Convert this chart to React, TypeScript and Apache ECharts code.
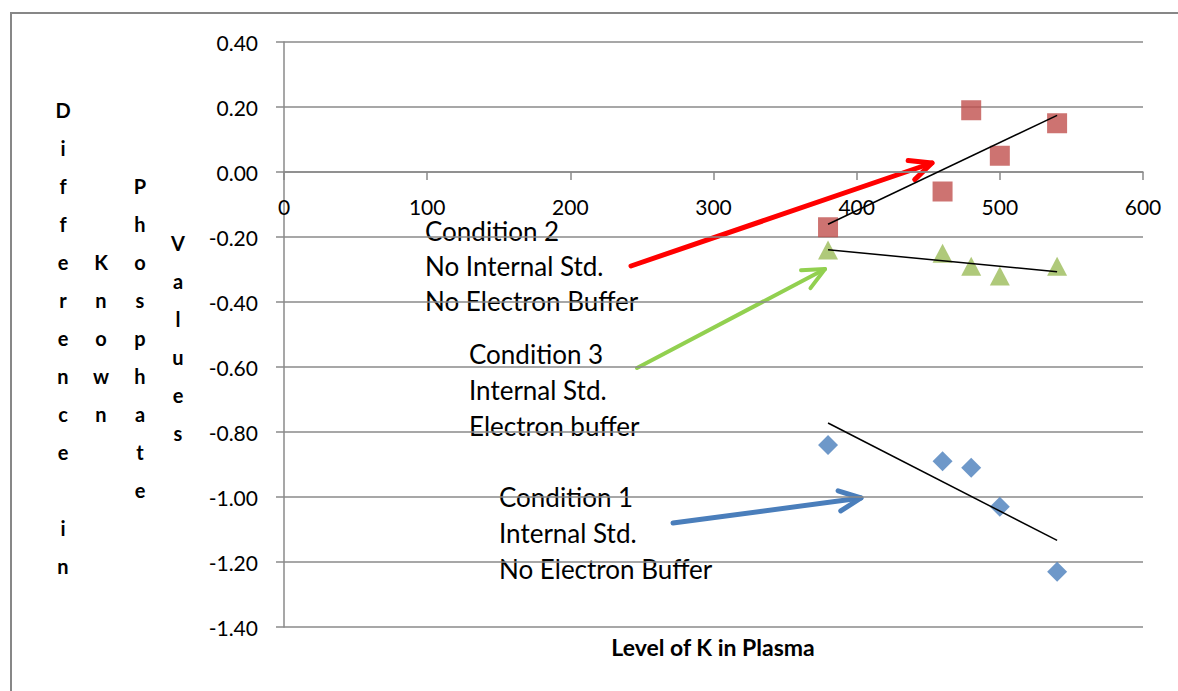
import React, { useEffect, useRef } from "react";
import * as echarts from "echarts";

const kLevels = [380, 460, 480, 500, 540];
const condition1 = [-0.84, -0.89, -0.91, -1.03, -1.23];
const condition2 = [-0.17, -0.06, 0.19, 0.05, 0.15];
const condition3 = [-0.24, -0.25, -0.29, -0.32, -0.29];

const yTitleColumns = ["Difference in", "Known", "Phosphate", "Values"];
const xTitle = "Level of K in Plasma";
const note2 = ["Condition 2", "No Internal Std.", "No Electron Buffer"];
const note3 = ["Condition 3", "Internal Std.", "Electron buffer"];
const note1 = ["Condition 1", "Internal Std.", "No Electron Buffer"];

const X_MIN = 0;
const X_MAX = 600;
const X_STEP = 100;
const Y_MIN = -1.4;
const Y_MAX = 0.4;
const Y_STEP = 0.2;

const FONT = "Lato, 'Open Sans', sans-serif";

function pairs(xs: number[], ys: number[]) {
  return xs.map((x, i) => [x, ys[i]]);
}

function trend(xs: number[], ys: number[]) {
  const n = xs.length;
  const mx = xs.reduce((a, b) => a + b, 0) / n;
  const my = ys.reduce((a, b) => a + b, 0) / n;
  let sxy = 0;
  let sxx = 0;
  for (let i = 0; i < n; i++) {
    sxy += (xs[i] - mx) * (ys[i] - my);
    sxx += (xs[i] - mx) * (xs[i] - mx);
  }
  const b = sxy / sxx;
  const x0 = Math.min(...xs);
  const x1 = Math.max(...xs);
  return [
    [x0, my + b * (x0 - mx)],
    [x1, my + b * (x1 - mx)],
  ];
}

function arrow(x1: number, y1: number, x2: number, y2: number, color: string, w: number) {
  const ang = Math.atan2(y1 - y2, x1 - x2);
  const len = 24;
  const spread = (25 * Math.PI) / 180;
  const a1 = [x2 + len * Math.cos(ang + spread), y2 + len * Math.sin(ang + spread)];
  const a2 = [x2 + len * Math.cos(ang - spread), y2 + len * Math.sin(ang - spread)];
  const style = { stroke: color, lineWidth: w, lineCap: "round", lineJoin: "round", fill: null };
  return {
    type: "group",
    children: [
      { type: "line", shape: { x1, y1, x2, y2 }, style },
      { type: "polyline", shape: { points: [a1, [x2, y2], a2] }, style },
    ],
  };
}

function note(lines: string[], x: number, y: number, lh: number) {
  return {
    type: "text",
    x,
    y,
    style: {
      text: lines.join("\n"),
      fontFamily: FONT,
      fontSize: 26,
      lineHeight: lh,
      fill: "#000",
      align: "left",
      verticalAlign: "middle",
    },
  };
}

export default function App() {
  const ref = useRef<HTMLDivElement>(null);
  useEffect(() => {
    if (!ref.current) return;
    const chart = echarts.init(ref.current, undefined, { renderer: "svg" });
    const gray = "#8a8a8a";
    const colX = [63, 101, 140, 178];
    const gridTop = 42;
    const gridBottom = 64;
    const gridH = 691 - gridTop - gridBottom;
    const zeroOffset = -((0 - Y_MIN) / (Y_MAX - Y_MIN)) * gridH;
    const option: any = {
      animation: false,
      backgroundColor: "#fff",
      grid: { left: 284, right: 35, top: gridTop, bottom: gridBottom, containLabel: false },
      xAxis: {
        type: "value",
        min: X_MIN,
        max: X_MAX,
        interval: X_STEP,
        position: "bottom",
        offset: zeroOffset,
        axisLine: { show: true, onZero: false, lineStyle: { color: gray, width: 1.5 } },
        axisTick: { show: true, inside: false, length: 8, lineStyle: { color: gray, width: 1.5 } },
        axisLabel: { color: "#000", fontSize: 21, fontFamily: FONT, margin: 24 },
        splitLine: { show: false },
      },
      yAxis: {
        type: "value",
        min: Y_MIN,
        max: Y_MAX,
        interval: Y_STEP,
        axisLine: { show: true, onZero: false, lineStyle: { color: gray, width: 1.5 } },
        axisTick: { show: true, inside: false, length: 8, lineStyle: { color: gray, width: 1.5 } },
        axisLabel: {
          color: "#000",
          fontSize: 21,
          fontFamily: FONT,
          margin: 26,
          formatter: (v: number) => (Math.abs(v) < 1e-9 ? "0.00" : v.toFixed(2)),
        },
        splitLine: { show: true, lineStyle: { color: gray, width: 1.5 } },
      },
      series: [
        {
          type: "scatter",
          name: "Condition 1",
          data: pairs(kLevels, condition1),
          symbol: "diamond",
          symbolSize: 20,
          itemStyle: { color: "#4A7EBB" },
          z: 2,
        },
        {
          type: "scatter",
          name: "Condition 2",
          data: pairs(kLevels, condition2),
          symbol: "rect",
          symbolSize: 20,
          itemStyle: { color: "#C0504D" },
          z: 2,
        },
        {
          type: "scatter",
          name: "Condition 3",
          data: pairs(kLevels, condition3),
          symbol: "triangle",
          symbolSize: [20, 19],
          itemStyle: { color: "#9BBB59" },
          z: 2,
        },
        ...[condition1, condition2, condition3].map((ys) => ({
          type: "line",
          data: trend(kLevels, ys),
          symbol: "none",
          lineStyle: { color: "#000", width: 1.5 },
          z: 3,
          silent: true,
        })),
      ],
      graphic: [
        {
          type: "polyline",
          shape: { points: [[11, 691], [11, 13], [1178, 13]] },
          style: { stroke: "#878787", lineWidth: 2, fill: null },
        },
        ...yTitleColumns.map((w, i) => ({
          type: "text",
          x: colX[i],
          y: 338,
          style: {
            text: w.split("").map((c) => (c === " " ? "" : c)).join("\n"),
            fontFamily: FONT,
            fontWeight: "bold",
            fontSize: 20,
            lineHeight: 38,
            fill: "#000",
            align: "center",
            verticalAlign: "middle",
          },
        })),
        {
          type: "text",
          x: 713,
          y: 647,
          style: {
            text: xTitle,
            fontFamily: FONT,
            fontWeight: "bold",
            fontSize: 23,
            fill: "#000",
            align: "center",
            verticalAlign: "middle",
          },
        },
        note(note2, 425, 266, 35),
        note(note3, 469, 390, 36),
        note(note1, 499, 533, 36),
        arrow(631, 266, 932, 163, "#FF0000", 5),
        arrow(637, 368, 825, 269, "#92D050", 4),
        arrow(673, 523, 861, 498, "#4A7EBB", 5),
      ],
    };
    chart.setOption(option);
    return () => chart.dispose();
  }, []);
  return (
    <div
      ref={ref}
      style={{ position: "fixed", left: 0, top: 0, width: 1178, height: 691 }}
    />
  );
}
